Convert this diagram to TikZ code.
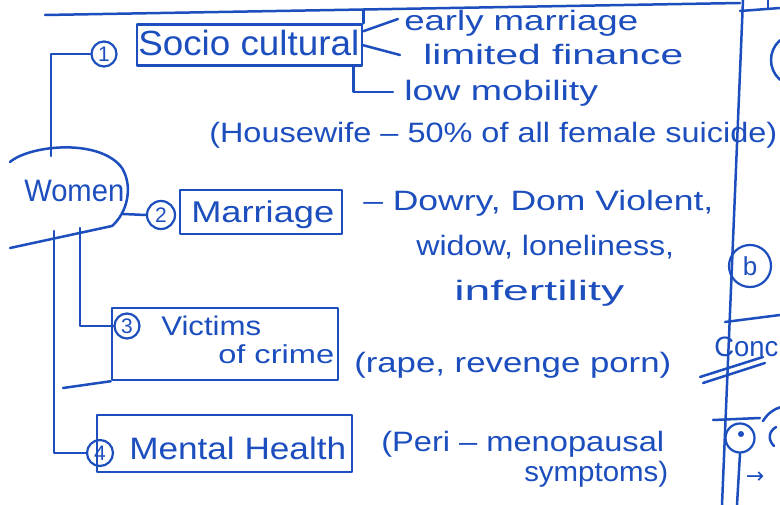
\documentclass[tikz,border=0pt]{standalone}
\usepackage{fontspec}
\setmainfont{Liberation Sans}
\newfontfamily\symfont{DejaVu Sans}
\definecolor{ink}{RGB}{28,78,190}
\newcommand{\hand}[3]{\resizebox{#1pt}{\height}{\fontsize{#2}{#2}\selectfont #3}}
\begin{document}
\begin{tikzpicture}[x=1pt,y=-1pt,line width=2.5pt,ink,line cap=round,line join=round,
  box/.style={draw,rectangle,inner sep=0pt,line width=2.5pt},
  num/.style={draw,circle,inner sep=0pt,line width=2.2pt,font=\fontsize{21}{21}\selectfont},
  lbl/.style={anchor=base west,inner sep=0pt}]
\fill[white] (0,0) rectangle (780,505);
\useasboundingbox (0,0) rectangle (780,505);

% top rule
\draw (45,15) -- (740,3);

% Women
\node[lbl] (women) at (23,202) {\hand{100}{31}{Women}};
\draw (10,162) .. controls (30,145) and (100,138) .. (122,168)
      .. controls (133,186) and (128,212) .. (112,226) -- (10,248);
\coordinate (wtop) at (51,156);
\coordinate (wright) at (123,214);
\coordinate (wb1) at (54,231);
\coordinate (wb2) at (80,228);

% 1 Socio cultural
\node[box,minimum width=225pt,minimum height=41pt] (socbox) at (249.5,45) {};
\draw (socbox.north east) -- ++(0,-13);
\node[lbl] (soc) at (137,56) {\hand{221}{35}{Socio cultural}};
\node[num,minimum size=25pt] (c1) at (104,54) {1};
\draw (wtop) |- (c1.west);

\coordinate (e1) at (398,19);
\coordinate (e2) at (400,55);
\coordinate (e3) at (393,92);
\draw ([yshift=-8pt]socbox.north east) -- (e1);
\draw ([yshift=-22pt]socbox.north east) -- (e2);
\draw ([xshift=-10pt]socbox.south east) |- (e3);
\node[lbl] (t1) at (403,31) {\hand{234}{28}{early marriage}};
\node[lbl] (t2) at (422,65) {\hand{260}{28}{limited finance}};
\node[lbl] (t3) at (403,101) {\hand{194}{28}{low mobility}};
\node[lbl] (t4) at (208,143) {\hand{568}{28}{(Housewife – 50\% of all female suicide)}};

% 2 Marriage
\node[num,minimum size=28pt] (c2) at (161,215) {2};
\draw (wright) -- (c2.west);
\node[box,minimum width=162pt,minimum height=44pt] (marbox) at (261,212) {};
\node[lbl] (mar) at (190,223) {\hand{143}{30}{Marriage}};
\node[lbl] (t5) at (362,211) {\hand{350}{28}{– Dowry, Dom Violent,}};
\node[lbl] (t6) at (415,256) {\hand{258}{28}{widow, loneliness,}};
\node[lbl] (t7) at (453,301) {\hand{170}{28}{infertility}};

% 3 Victims of crime
\node[box,minimum width=226pt,minimum height=72pt] (vicbox) at (225,344) {};
\coordinate (vicx) at (63,388);
\draw (vicbox.south west) -- (vicx);
\node[num,minimum size=25pt] (c3) at (127,326) {3};
\draw (wb2) |- (c3.west);
\node[lbl] (vic1) at (160,336) {\hand{100}{27}{Victims}};
\node[lbl] (vic2) at (217,363) {\hand{116}{26}{of crime}};
\node[lbl] (t8) at (353,373) {\hand{317}{28}{(rape, revenge porn)}};

% 4 Mental Health
\node[box,minimum width=255pt,minimum height=57pt] (menbox) at (224.5,443.5) {};
\node[num,minimum size=26pt] (c4) at (100,453) {4};
\draw (wb1) |- (c4.west);
\node[lbl] (men) at (128,459) {\hand{217}{31}{Mental Health}};
\node[lbl] (t9) at (380,451) {\hand{283}{28}{(Peri – menopausal}};
\node[lbl] (t10) at (523,481) {\hand{144}{28}{symptoms)}};

% right margin fragments
\draw (743,0) -- (722,505);
\draw (740,11) -- (780,8);
\draw (768,0) -- (768,9);
\draw (797,60) circle (26);
\node[num,minimum size=42pt,font=\fontsize{26}{26}\selectfont] (b) at (750,266) {b};
\draw (725,322) -- (780,315);
\node[lbl] (conc) at (713,357) {\hand{64}{28}{Conc}};
\draw (700,377) -- (763,357);
\draw (703,383) -- (765,363);
\draw (713,420) -- (760,418);
\draw (763,421) .. controls (768,413) and (774,409) .. (781,407);
\node[num,minimum size=29pt] (dotc) at (740,438) {};
\fill (741,434) circle (3);
\coordinate (dotend) at (737,505);
\draw (dotc.south) -- (dotend);
\draw (776,427) .. controls (768,432) and (768,440) .. (774,446);
\node (arr) at (755,478) {\symfont\fontsize{22}{22}\selectfont →};
\end{tikzpicture}
\end{document}
